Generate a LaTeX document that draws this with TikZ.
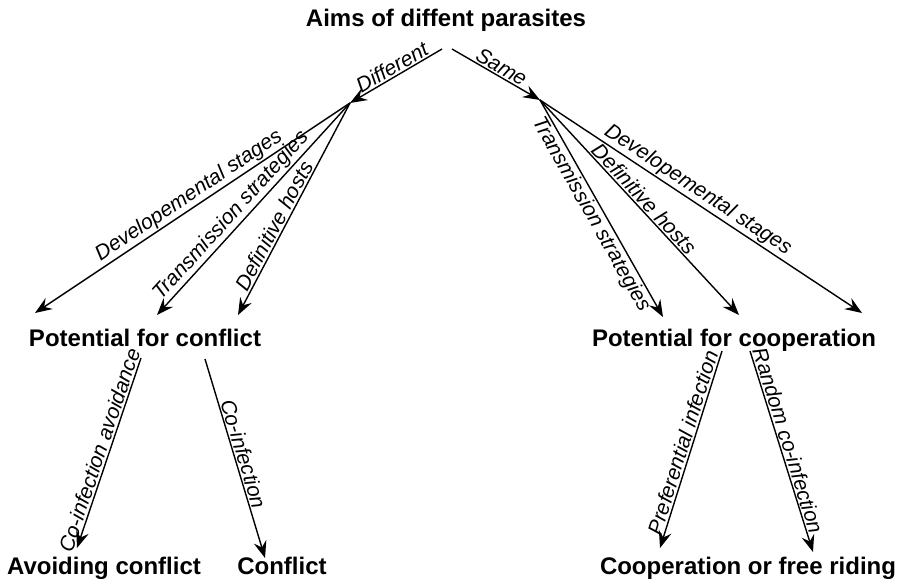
\documentclass[tikz,border=0pt]{standalone}
\usepackage{fontspec}
\setmainfont{Liberation Sans}
\usetikzlibrary{arrows.meta}
\begin{document}
\begin{tikzpicture}
  [x=1pt,y=-1pt,line width=1.4pt,
   headN/.style={font=\bfseries\fontsize{24}{28}\selectfont,inner sep=0pt,anchor=base},
   lblN/.style={font=\itshape\fontsize{21}{25}\selectfont,inner sep=1.5pt,sloped},
   arr/.style={-{Stealth[length=17pt,width=13pt,inset=6pt]}}
  ]
  \useasboundingbox (0,0) rectangle (901,578);

  \node[headN] (aims) at (446,27) {Aims of diffent parasites};
  \foreach \n/\x/\y/\t in {pconf/145/346/Potential for conflict,pcoop/734/346/Potential for cooperation,
                           avoid/104/574/Avoiding conflict,conf/282/574/Conflict,coop/748/574/Cooperation or free riding} {
     \node[headN] (\n) at (\x,\y) {\t};
  }

  \foreach \n/\x/\y in {dtop/442/49,stop/452/49,dhub/350/103,shub/540/100,
                        dd1/35/313,dd2/157/315,dd3/238/315,sd1/663/317,sd2/739/315,sd3/862/313,
                        cfa/141/358,cfb/77/548,cfc/205/359,cfd/265/558,
                        cpa/722/351,cpb/660/548,cpc/750/351,cpd/813/552} {
     \coordinate (\n) at (\x,\y);
  }

  \foreach \a/\b/\t/\p/\s in {dtop/dhub/Different/0.49/above,stop/shub/Same/0.51/above,
                              dhub/dd1/Developemental stages/0.49/above,
                              dhub/dd2/Transmission strategies/0.57/above,
                              dhub/dd3/Definitive hosts/0.6/above,
                              shub/sd1/Transmission strategies/0.5/below,
                              shub/sd2/Definitive hosts/0.49/above,
                              shub/sd3/Developemental stages/0.47/above,
                              cfa/cfb/Co-infection avoidance/0.5/above,
                              cfc/cfd/Co-infection/0.49/above,
                              cpa/cpb/Preferential infection/0.48/above,
                              cpc/cpd/Random co-infection/0.46/above} {
      \draw[arr] (\a) -- node[lblN,\s,pos=\p] {\t} (\b);
  }
\end{tikzpicture}
\end{document}
